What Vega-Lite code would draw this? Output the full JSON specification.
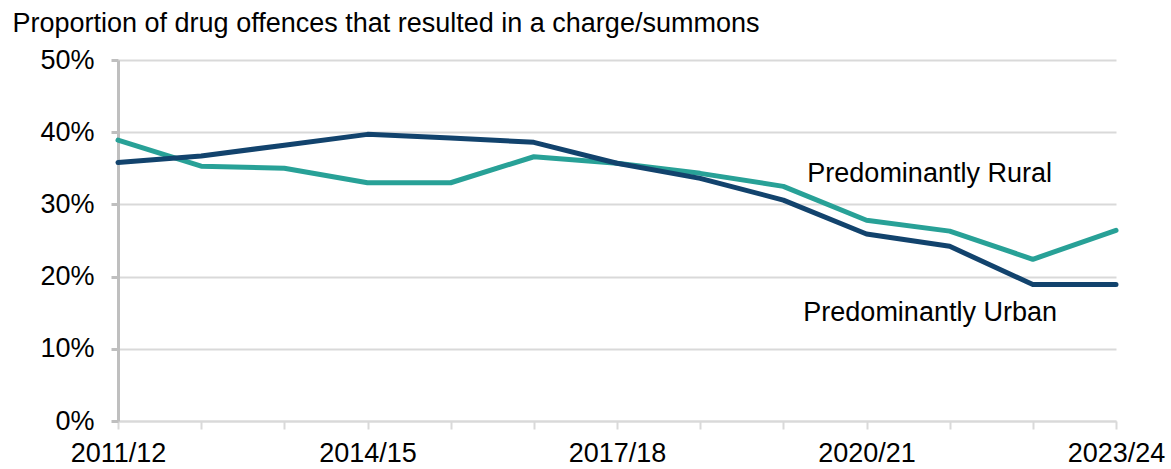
{
  "$schema": "https://vega.github.io/schema/vega-lite/v6.json",
  "autosize": {"type": "none"},
  "width": 998,
  "height": 361,
  "padding": {"left": 118, "top": 60, "right": 55, "bottom": 48},
  "background": "white",
  "config": {
    "view": {"stroke": null},
    "font": "Liberation Sans",
    "axis": {"labelFont": "Liberation Sans", "titleFont": "Liberation Sans"},
    "text": {"font": "Liberation Sans"}
  },
  "datasets": {
    "series": [
      {"year": "2011/12", "area": "Rural", "value": 0.389},
      {"year": "2012/13", "area": "Rural", "value": 0.353},
      {"year": "2013/14", "area": "Rural", "value": 0.350},
      {"year": "2014/15", "area": "Rural", "value": 0.330},
      {"year": "2015/16", "area": "Rural", "value": 0.330},
      {"year": "2016/17", "area": "Rural", "value": 0.366},
      {"year": "2017/18", "area": "Rural", "value": 0.357},
      {"year": "2018/19", "area": "Rural", "value": 0.343},
      {"year": "2019/20", "area": "Rural", "value": 0.325},
      {"year": "2020/21", "area": "Rural", "value": 0.278},
      {"year": "2021/22", "area": "Rural", "value": 0.263},
      {"year": "2022/23", "area": "Rural", "value": 0.224},
      {"year": "2023/24", "area": "Rural", "value": 0.264},
      {"year": "2011/12", "area": "Urban", "value": 0.358},
      {"year": "2012/13", "area": "Urban", "value": 0.367},
      {"year": "2013/14", "area": "Urban", "value": 0.382},
      {"year": "2014/15", "area": "Urban", "value": 0.397},
      {"year": "2015/16", "area": "Urban", "value": 0.392},
      {"year": "2016/17", "area": "Urban", "value": 0.386},
      {"year": "2017/18", "area": "Urban", "value": 0.357},
      {"year": "2018/19", "area": "Urban", "value": 0.336},
      {"year": "2019/20", "area": "Urban", "value": 0.306},
      {"year": "2020/21", "area": "Urban", "value": 0.259},
      {"year": "2021/22", "area": "Urban", "value": 0.242},
      {"year": "2022/23", "area": "Urban", "value": 0.189},
      {"year": "2023/24", "area": "Urban", "value": 0.189}
    ],
    "labels": [
      {"year": "2019/20", "value": 0.331, "label": "Predominantly Rural", "shift": 24},
      {"year": "2019/20", "value": 0.139, "label": "Predominantly Urban", "shift": 20}
    ]
  },
  "layer": [
    {
      "data": {"name": "series"},
      "mark": {"type": "line", "strokeWidth": 5, "strokeCap": "round", "strokeJoin": "round"},
      "encoding": {
        "x": {
          "field": "year",
          "type": "ordinal",
          "sort": null,
          "scale": {"type": "point", "padding": 0},
          "axis": {
            "title": null,
            "labelExpr": "indexof(['2011/12','2014/15','2017/18','2020/21','2023/24'], datum.value) >= 0 ? datum.value : ''",
            "labelOverlap": false,
            "labelAngle": 0,
            "labelFontSize": 27,
            "labelColor": "#000000",
            "labelPadding": 11,
            "labelBaseline": "top",
            "domainColor": "#D9D9D9",
            "domainWidth": 2,
            "tickColor": "#D9D9D9",
            "tickWidth": 2,
            "tickSize": 8,
            "grid": false
          }
        },
        "y": {
          "field": "value",
          "type": "quantitative",
          "scale": {"domain": [0, 0.5], "nice": false},
          "axis": {
            "title": "Proportion of drug offences that resulted in a charge/summons",
            "titleAngle": 0,
            "titleAlign": "left",
            "titleBaseline": "alphabetic",
            "titleX": -106,
            "titleY": -29,
            "titleFontSize": 27,
            "titleFontWeight": "normal",
            "titleColor": "#000000",
            "values": [0, 0.1, 0.2, 0.3, 0.4, 0.5],
            "format": ".0%",
            "labelFontSize": 27,
            "labelColor": "#000000",
            "labelPadding": 17,
            "domainColor": "#BFBFBF",
            "domainWidth": 3,
            "tickColor": "#BFBFBF",
            "tickWidth": 3,
            "tickSize": 7,
            "grid": true,
            "gridColor": "#D9D9D9",
            "gridWidth": 2
          }
        },
        "color": {
          "field": "area",
          "type": "nominal",
          "scale": {"domain": ["Rural", "Urban"], "range": ["#28A197", "#12436D"]},
          "legend": null
        }
      }
    },
    {
      "data": {"name": "labels"},
      "mark": {"type": "text", "align": "left", "baseline": "alphabetic", "fontSize": 27, "color": "#000000"},
      "encoding": {
        "x": {"field": "year", "type": "ordinal", "sort": null},
        "y": {"field": "value", "type": "quantitative"},
        "xOffset": {"field": "shift", "type": "quantitative", "scale": null},
        "text": {"field": "label"}
      }
    }
  ]
}
